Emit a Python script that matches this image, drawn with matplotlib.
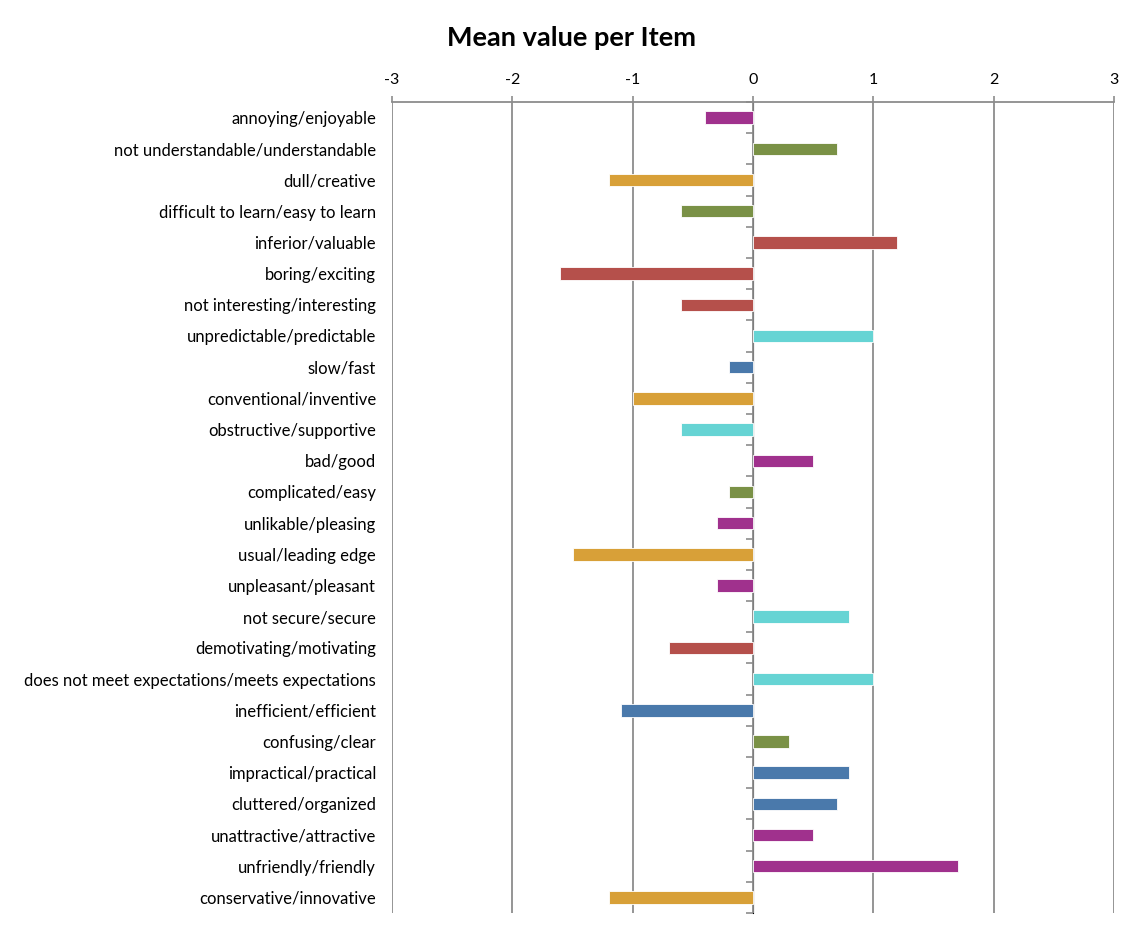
import matplotlib.pyplot as plt

# UEQ items, top to bottom
items = [
    "annoying/enjoyable", "not understandable/understandable", "dull/creative",
    "difficult to learn/easy to learn", "inferior/valuable", "boring/exciting",
    "not interesting/interesting", "unpredictable/predictable", "slow/fast",
    "conventional/inventive", "obstructive/supportive", "bad/good",
    "complicated/easy", "unlikable/pleasing", "usual/leading edge",
    "unpleasant/pleasant", "not secure/secure", "demotivating/motivating",
    "does not meet expectations/meets expectations", "inefficient/efficient",
    "confusing/clear", "impractical/practical", "cluttered/organized",
    "unattractive/attractive", "unfriendly/friendly", "conservative/innovative",
]
means = [-0.4, 0.7, -1.2, -0.6, 1.2, -1.6, -0.6, 1.0, -0.2, -1.0, -0.6, 0.5, -0.2,
         -0.3, -1.5, -0.3, 0.8, -0.7, 1.0, -1.1, 0.3, 0.8, 0.7, 0.5, 1.7, -1.2]
scales = ["att", "per", "nov", "per", "sti", "sti", "sti", "dep", "eff", "nov",
          "dep", "att", "per", "att", "nov", "att", "dep", "sti", "dep", "eff",
          "per", "eff", "eff", "att", "att", "nov"]
scale_colors = {
    "att": "#A0318D", "per": "#7A9146", "nov": "#D8A038",
    "sti": "#B5504B", "dep": "#66D4D4", "eff": "#4A79AB",
}
x_ticks = [-3, -2, -1, 0, 1, 2, 3]

plt.rcParams["font.family"] = ["Lato", "DejaVu Sans"]
plt.rcParams["axes.unicode_minus"] = False

fig = plt.figure(figsize=(11.34, 9.31), dpi=100)
ax = fig.add_axes([0.3457, 0.0193, 0.6367, 0.8711])

pos = list(range(len(items)))
ax.barh(pos, means, height=0.4, color=[scale_colors[s] for s in scales],
        edgecolor="white", linewidth=0.6, zorder=3)

ax.set_xlim(-3, 3)
ax.set_ylim(len(items) - 0.5, -0.5)
ax.set_xticks(x_ticks)
ax.xaxis.tick_top()
ax.tick_params(axis="x", length=4, width=1.2, color="#8c8c8c", labelsize=11.5, pad=7)
ax.grid(axis="x", color="#8c8c8c", linewidth=1.3, zorder=1)
ax.set_axisbelow(True)

ax.set_yticks(pos)
ax.set_yticklabels(items)
ax.tick_params(axis="y", length=0, labelsize=12, pad=11.5)

for side in ["left", "right", "bottom"]:
    ax.spines[side].set_visible(False)
ax.spines["top"].set_color("#8c8c8c")
ax.spines["top"].set_linewidth(1.3)

# category separator ticks on the zero line
sec = ax.secondary_yaxis(0.5)
sec.set_yticks([p + 0.5 for p in pos] + [-0.5])
sec.set_yticklabels([])
sec.tick_params(axis="y", length=5, width=1.2, color="#8c8c8c", direction="in")
sec.spines["left"].set_visible(False)

fig.text(0.504, 0.959, "Mean value per Item", ha="center", va="center",
         fontsize=19.5, fontweight="bold")

fig.savefig("out.png", dpi=100)
